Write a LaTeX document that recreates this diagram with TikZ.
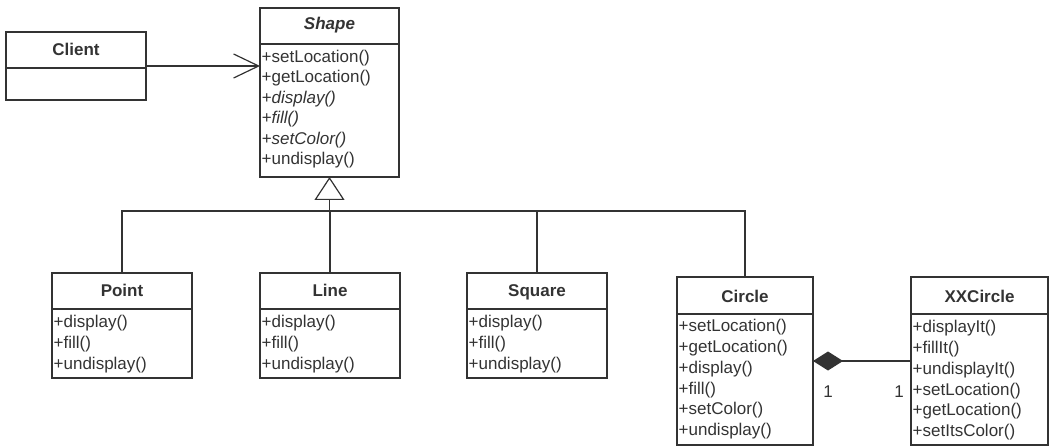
\documentclass[tikz,border=0pt]{standalone}
\usepackage{fontspec}
\setmainfont{Liberation Sans}
\usetikzlibrary{arrows.meta}
\definecolor{ink}{HTML}{333333}
\begin{document}
\begin{tikzpicture}[x=1pt,y=-1pt,
  box/.style={draw=ink, line width=1.4pt, anchor=north west, inner sep=0pt, outer sep=0pt},
  ttl/.style={font=\fontsize{17}{20}\selectfont\bfseries, text=ink, anchor=base, inner sep=0pt},
  mem/.style={font=\fontsize{17}{20}\selectfont, text=ink, anchor=base west, inner sep=0pt},
  abm/.style={mem, font=\fontsize{17}{20}\selectfont\itshape},
  conn/.style={draw=ink, line width=1.2pt},
  divl/.style={draw=ink, line width=1.4pt}]
\useasboundingbox (0,0) rectangle (1051,446);

% ---- Client
\node[box, minimum width=140pt, minimum height=68pt] (client) at (6,32) {};
\draw[divl] ([yshift=-36pt]client.north west) -- ([yshift=-36pt]client.north east);
\node[ttl] (clientT) at (76,56) {Client};

% ---- Shape
\node[box, minimum width=139pt, minimum height=169pt] (shape) at (260,8) {};
\draw[divl] ([yshift=-36pt]shape.north west) -- ([yshift=-36pt]shape.north east);
\node[ttl, font=\fontsize{17}{20}\selectfont\bfseries\itshape] (shapeT) at (329.5,30) {Shape};
\node[mem] (s1) at (261.5,62.5) {+setLocation()};
\node[mem] (s2) at (261.5,83) {+getLocation()};
\node[abm] (s3) at (261.5,103.5) {+display()};
\node[abm] (s4) at (261.5,124) {+fill()};
\node[abm] (s5) at (261.5,144.5) {+setColor()};
\node[mem] (s6) at (261.5,165) {+undisplay()};

% ---- Point, Line, Square
\foreach \nm/\lbl/\x in {point/Point/52, line/Line/260, square/Square/467}{
  \node[box, minimum width=140pt, minimum height=105pt] (\nm) at (\x,273) {};
  \draw[divl] ([yshift=-36pt]\nm.north west) -- ([yshift=-36pt]\nm.north east);
  \node[ttl] (\nm T) at (\x+70,296.5) {\lbl};
  \node[mem] (\nm1) at (\x+1.5,327) {+display()};
  \node[mem] (\nm2) at (\x+1.5,348) {+fill()};
  \node[mem] (\nm3) at (\x+1.5,369) {+undisplay()};
}

% ---- Circle
\node[box, minimum width=136pt, minimum height=168pt] (circle) at (677,277) {};
\draw[divl] ([yshift=-37pt]circle.north west) -- ([yshift=-37pt]circle.north east);
\node[ttl] (circleT) at (745,302) {Circle};
\node[mem] (c1) at (678.5,331.5) {+setLocation()};
\node[mem] (c2) at (678.5,352.5) {+getLocation()};
\node[mem] (c3) at (678.5,373) {+display()};
\node[mem] (c4) at (678.5,394) {+fill()};
\node[mem] (c5) at (678.5,414.5) {+setColor()};
\node[mem] (c6) at (678.5,435.5) {+undisplay()};

% ---- XXCircle
\node[box, minimum width=137pt, minimum height=168pt] (xx) at (911,277) {};
\draw[divl] ([yshift=-37pt]xx.north west) -- ([yshift=-37pt]xx.north east);
\node[ttl] (xxT) at (979.5,302) {XXCircle};
\node[mem] (x1) at (912.5,332) {+displayIt()};
\node[mem] (x2) at (912.5,353) {+fillIt()};
\node[mem] (x3) at (912.5,374) {+undisplayIt()};
\node[mem] (x4) at (912.5,395) {+setLocation()};
\node[mem] (x5) at (912.5,415.5) {+getLocation()};
\node[mem] (x6) at (912.5,436.5) {+setItsColor()};

% ---- Client -> Shape
\draw[conn, -{Straight Barb[length=25pt, width=24pt]}] (client.east) -- (shape.west |- client.east);

% ---- Generalization
\coordinate (j) at (329.5,211);
\draw[conn, -{Triangle[open, length=23pt, width=30pt]}] (j) -- (shape.south);
\draw[conn] (point.north) -- (point.north |- j) -- (circle.north |- j) -- (circle.north);
\draw[conn] (line.north) -- (line.north |- j);
\draw[conn] (square.north) -- (square.north |- j);

% ---- Composition
\draw[conn, {Diamond[length=30pt, width=19pt]}-] (circle.east) -- (xx.west);
\node[mem, anchor=base] (m1) at (828,397) {1};
\node[mem, anchor=base] (m2) at (899,397) {1};
\end{tikzpicture}
\end{document}
